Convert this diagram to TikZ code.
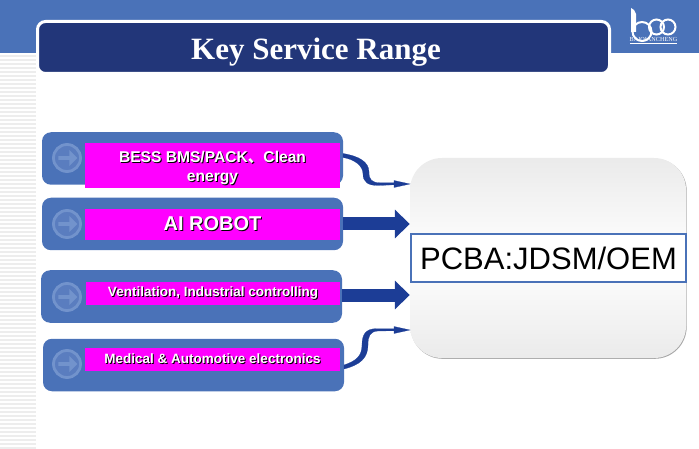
\documentclass[tikz,border=0pt]{standalone}
\usepackage{fontspec}
\usepackage{xcolor}
\usepackage{tikz}
\usetikzlibrary{arrows.meta, positioning, shapes.arrows, shadows}
\setmainfont{Liberation Sans}
\newfontfamily\titlefont{Liberation Serif}
\newfontfamily\cjkfont{Noto Sans CJK SC}
\definecolor{bandblue}{HTML}{4A72B8}
\definecolor{navy}{HTML}{223679}
\definecolor{linkblue}{HTML}{1C3D96}
\definecolor{ringblue}{HTML}{7293CC}
\definecolor{discblue}{HTML}{5A7DBF}
\definecolor{tagpink}{HTML}{FF00FF}
\newcommand{\shadowtxt}[1]{\leavevmode\rlap{\kern1pt\raisebox{-1pt}{\textcolor{black}{#1}}}#1}

\begin{document}
\begin{tikzpicture}[
        x=1pt, y=-1pt,
        band/.style={draw=none, fill=bandblue},
        titlebox/.style={
            draw=white, fill=navy, line width=3pt, rounded corners=8pt,
            minimum width=572pt, minimum height=52pt, inner sep=0pt
        },
        service/.style={
            fill=bandblue, rounded corners=9pt, minimum width=301pt,
            minimum height=52.5pt, inner sep=0pt, outer sep=0pt
        },
        tag/.style={
            fill=tagpink, minimum width=255pt, inner sep=0pt, outer sep=0pt,
            text=white, align=center, font=\bfseries\fontsize{13.5}{19}\selectfont
        },
        icon/.style={
            circle, draw=ringblue, fill=discblue, line width=2.8pt,
            minimum size=27pt, inner sep=0pt
        },
        iconarrow/.style={
            single arrow, fill=ringblue, minimum height=19pt, minimum width=16pt,
            single arrow head extend=4pt, inner sep=1pt
        },
        hub/.style={
            rounded corners=32pt, minimum width=276pt, minimum height=200pt,
            inner sep=0pt, top color=gray!16, bottom color=gray!16, middle color=white,
            general shadow={fill=gray!70, shadow xshift=.7pt, shadow yshift=-.8pt}
        },
        hublabel/.style={
            draw=bandblue, fill=white, line width=1.3pt, minimum width=275pt,
            minimum height=48pt, inner sep=0pt, font=\fontsize{31}{36}\selectfont
        },
        blockarrow/.style={
            draw=linkblue, line width=13pt,
            -{Triangle[length=15pt, width=28pt, fill=linkblue]}
        },
        curvelink/.style={fill=linkblue, draw=linkblue, line width=.2pt},
        logoline/.style={draw=white, line width=2pt}
    ]

        \useasboundingbox (0,0) rectangle (699,449);

        % Background
        \fill[band] (0,0) rectangle (699,53);
        \foreach \y in {55,59,...,447}
            \fill[gray!14] (0,\y) rectangle (36,\y+2);

        % Logo
        \fill[white] (631,8) -- (634,10) -- (636,14) -- (636,32) -- (631,32) -- cycle;
        \draw[logoline] (642,31.5) circle (9.5);
        \draw[logoline] (656.5,27) circle (7.5);
        \draw[logoline] (668,27) circle (7.5);
        \node[text=white, inner sep=0pt, font=\titlefont\fontsize{6.2}{7}\selectfont] (logotext) at (653.5,40) {BAIQIANCHENG};
        \draw[white, line width=.8pt] (630,43.5) -- (677,43.5);

        % Title
        \node[titlebox] (title) at (323.5,47.5) {};
        \node[text=white, inner sep=0pt, font=\titlefont\bfseries\fontsize{31}{36}\selectfont] (titletext) at (316,52) {Key Service Range};

        % Blocks
        \node[service] (b1) at (192.5,158.5) {};
        \node[service, below=13pt of b1] (b2) {};
        \node[service, below=20pt of b2, xshift=-1pt] (b3) {};
        \node[service, below=16pt of b3, xshift=2pt] (b4) {};

        \foreach \b/\c in {b1/158, b2/224, b3/297, b4/364} {
            \node[icon] (\b icon) at (67,\c) {};
            \node[iconarrow] (\b arrow) at (\b icon) {};
        }

        \node[tag, minimum height=45pt, font=\bfseries\fontsize{15.6}{19}\selectfont] (t1) at (212.5,165.5) {\rule{0pt}{17pt}\shadowtxt{BESS BMS/PACK{\cjkfont 、}Clean}\\\shadowtxt{energy}};
        \node[tag, minimum height=31pt, font=\bfseries\fontsize{20}{22}\selectfont] (t2) at (212.5,224.5) {\shadowtxt{AI ROBOT}};
        \node[tag, minimum height=23pt, minimum width=254pt] (t3) at (213,293.5) {\shadowtxt{Ventilation, Industrial controlling}};
        \node[tag, minimum height=23pt] (t4) at (212.5,359.5) {\shadowtxt{Medical \& Automotive electronics}};

        \node[hub] (pcba) at (548,258) {};
        \node[hublabel] (pcbalabel) at (548.5,258) {PCBA:JDSM/OEM};

        \coordinate (in1) at (410,184);
        \coordinate (in4) at (410,330);

        % Arrows
        \draw[blockarrow] (b2.east) -- (b2.east -| pcba.west);
        \draw[blockarrow] ([yshift=1.5pt]b3.east) -- ([yshift=1.5pt]b3.east -| pcba.west);

        \draw[curvelink] ([yshift=5pt]b1.east) .. controls (359,156) and (369,162) .. (369,172)
            .. controls (369,180) and (372,182.6) .. (380,182.8) -- (394,182.8) -- (394,180.5) -- (in1)
            -- (394,187.5) -- (394,184.8) -- (378,185.5) .. controls (368,185.5) and (363,182) .. (363,174)
            .. controls (363,166) and (355,159.5) .. ([yshift=1pt]b1.east) -- cycle;
        \draw[curvelink] (b4.east) .. controls (356,361) and (362,356) .. (362,345)
            .. controls (362,334) and (366,329) .. (376,328.6) -- (394,328.6) -- (394,326.5) -- (in4)
            -- (394,333.5) -- (394,330.8) -- (378,331) .. controls (370,331.5) and (368,336) .. (368,345)
            .. controls (368,358) and (360,365) .. ([yshift=-4pt]b4.east) -- cycle;

    \end{tikzpicture}
\end{document}
